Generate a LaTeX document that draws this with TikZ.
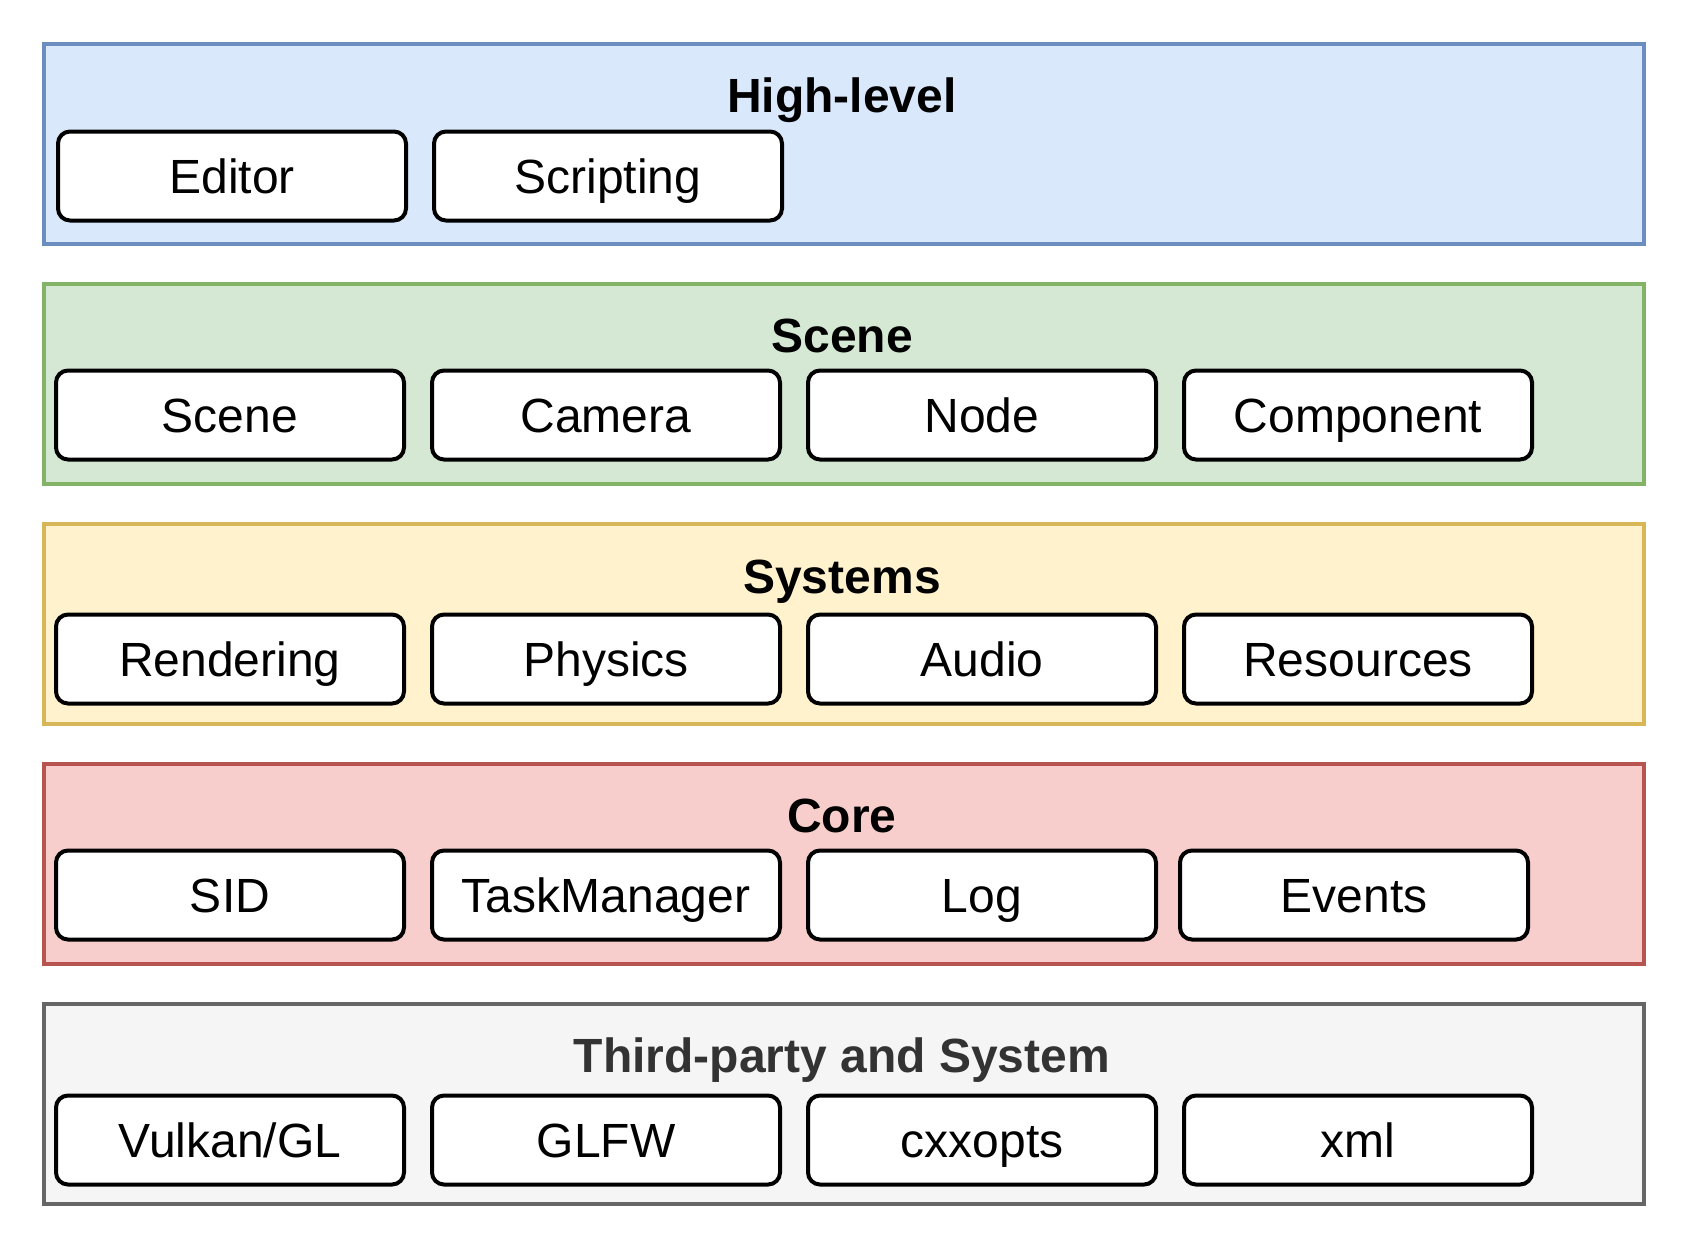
\documentclass[tikz,border=0pt]{standalone}
\usepackage{fontspec}
\setmainfont{Liberation Sans}
\definecolor{bluef}{HTML}{DAE8FC}\definecolor{blued}{HTML}{6C8EBF}
\definecolor{greenf}{HTML}{D5E8D4}\definecolor{greend}{HTML}{82B366}
\definecolor{yellowf}{HTML}{FFF2CC}\definecolor{yellowd}{HTML}{D6B656}
\definecolor{redf}{HTML}{F8CECC}\definecolor{redd}{HTML}{B85450}
\definecolor{grayf}{HTML}{F5F5F5}\definecolor{grayd}{HTML}{666666}
\definecolor{graytxt}{HTML}{333333}
\begin{document}
\begin{tikzpicture}[x=1pt,y=-1pt,
  layer/.style={draw, line width=3.5pt, anchor=north west, minimum width=1600pt, minimum height=160pt, inner sep=0pt},
  ltitle/.style={font=\fontsize{48}{56}\selectfont\bfseries, inner sep=0pt, anchor=center, text height=34.4pt, text depth=0pt},
  part/.style={draw, fill=white, line width=4pt, rounded corners=12pt, minimum width=348pt, minimum height=89pt, inner sep=0pt, text height=34.4pt, text depth=0pt, font=\fontsize{48}{56}\selectfont}]
\useasboundingbox (0,0) rectangle (1684,1248);
\fill[white] (0,0) rectangle (1684,1248);
% layers
\node[layer, fill=bluef, draw=blued, minimum height=200pt] (L1) at (42,42) {};
\node[layer, fill=greenf, draw=greend, minimum height=200pt] (L2) at (42,282) {};
\node[layer, fill=yellowf, draw=yellowd, minimum height=200pt] (L3) at (42,522) {};
\node[layer, fill=redf, draw=redd, minimum height=200pt] (L4) at (42,762) {};
\node[layer, fill=grayf, draw=grayd, minimum height=200pt] (L5) at (42,1002) {};
% titles
\node[ltitle] (T1) at (842,95) {High-level};
\node[ltitle] (T2) at (842,335) {Scene};
\node[ltitle] (T3) at (842,576) {Systems};
\node[ltitle] (T4) at (842,815) {Core};
\node[ltitle, text=graytxt] (T5) at (842,1055) {Third-party and System};
% high-level
\node[part] (editor) at (232,176) {Editor};
\node[part] (scripting) at (608,176) {Scripting};
% scene
\node[part] (scene) at (230,415) {Scene};
\node[part] (camera) at (606,415) {Camera};
\node[part] (node) at (982,415) {Node};
\node[part] (component) at (1358,415) {Component};
% systems
\node[part] (rendering) at (230,659) {Rendering};
\node[part] (physics) at (606,659) {Physics};
\node[part] (audio) at (982,659) {Audio};
\node[part] (resources) at (1358,659) {Resources};
% core
\node[part] (sid) at (230,895) {SID};
\node[part] (taskmanager) at (606,895) {TaskManager};
\node[part] (log) at (982,895) {Log};
\node[part] (events) at (1354,895) {Events};
% third-party
\node[part] (vulkan) at (230,1140) {Vulkan/GL};
\node[part] (glfw) at (606,1140) {GLFW};
\node[part] (cxxopts) at (982,1140) {cxxopts};
\node[part] (xml) at (1358,1140) {xml};
\end{tikzpicture}
\end{document}
